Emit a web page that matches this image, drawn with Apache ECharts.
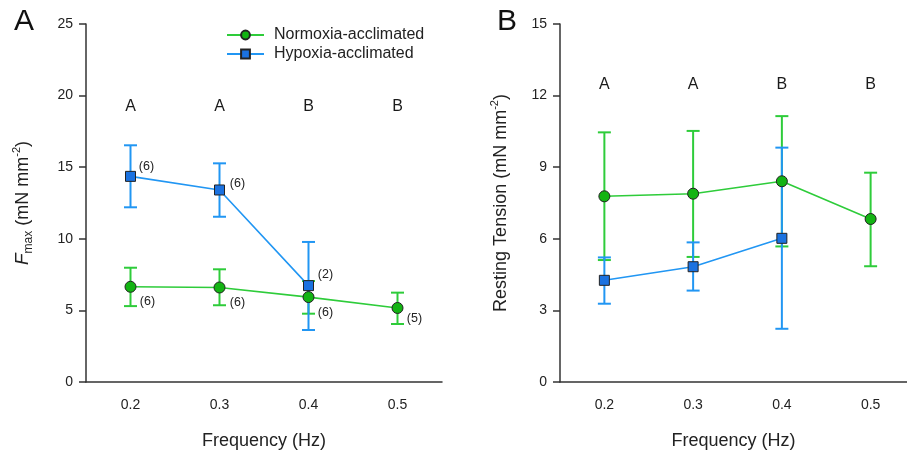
<!DOCTYPE html>
<html><head><meta charset="utf-8">
<script src="https://cdn.jsdelivr.net/npm/echarts@6/dist/echarts.min.js"></script>
<style>html,body{margin:0;padding:0;background:#fff}#c{width:907px;height:454px}</style>
</head><body><div id="c"></div>
<script>
// ---- data ----
const freq = [0.2, 0.3, 0.4, 0.5];
const freqHyp = [0.2, 0.3, 0.4];
const fmaxNorm = [6.65, 6.6, 5.93, 5.17];
const fmaxNormLo = [5.3, 5.36, 4.77, 4.05];
const fmaxNormHi = [7.98, 7.87, 7.05, 6.24];
const fmaxHyp = [14.36, 13.41, 6.73];
const fmaxHypLo = [12.2, 11.54, 3.63];
const fmaxHypHi = [16.53, 15.27, 9.78];
const nNorm = [6, 6, 6, 5];
const nHyp = [6, 6, 2];
const restNorm = [7.78, 7.89, 8.41, 6.83];
const restNormLo = [5.11, 5.24, 5.68, 4.85];
const restNormHi = [10.46, 10.52, 11.14, 8.77];
const restHyp = [4.26, 4.83, 6.02];
const restHypLo = [3.28, 3.83, 2.23];
const restHypHi = [5.22, 5.85, 9.82];
const groupLetters = ['A', 'A', 'B', 'B'];
const letterLevelA = 19.2;
const letterLevelB = 12.45;
const xTicks = [0.2, 0.3, 0.4, 0.5];

// ---- styles ----
const FONT = 'Liberation Sans, Arial, sans-serif';
const GREEN = '#2ecc3a', GREEN_FILL = '#13b413';
const BLUE = '#2196f3', BLUE_FILL = '#1b72e0';
const nOffNorm = [[17, 15], [18, 15], [17, 15], [17, 11]];
const nOffHyp = [[16, -10], [18, -6], [17, -11]];

const chart = echarts.init(document.getElementById('c'), null, {renderer: 'canvas'});

function xAxisCfg(gi, max) {
  return {
    type: 'value', gridIndex: gi, min: 0.15, max: max,
    axisLine: {show: true, lineStyle: {color: '#333', width: 1.5}},
    axisTick: {show: false},
    splitLine: {show: false},
    axisLabel: {customValues: xTicks, formatter: v => v.toFixed(1), color: '#222', fontSize: 14, fontFamily: FONT, margin: 16},
    name: 'Frequency (Hz)', nameLocation: 'middle', nameGap: 50,
    nameTextStyle: {color: '#222', fontSize: 18, fontFamily: FONT}
  };
}
function yAxisCfg(gi, max, interval, nameRich, name, gap) {
  return {
    type: 'value', gridIndex: gi, min: 0, max: max, interval: interval,
    axisLine: {show: true, lineStyle: {color: '#333', width: 1.5}},
    axisTick: {show: true, inside: false, length: 7, lineStyle: {color: '#333', width: 1.5}},
    splitLine: {show: false},
    axisLabel: {color: '#222', fontSize: 14, fontFamily: FONT, margin: 13},
    name: name, nameLocation: 'middle', nameRotate: 90, nameGap: gap,
    nameTextStyle: {color: '#222', fontSize: 18, fontFamily: FONT, rich: nameRich}
  };
}

const richA = {
  i: {fontSize: 19, fontStyle: 'italic', fontFamily: FONT, color: '#222', lineHeight: 24, verticalAlign: 'middle'},
  sub: {fontSize: 12, fontFamily: FONT, color: '#222', lineHeight: 24, verticalAlign: 'bottom'},
  n: {fontSize: 18, fontFamily: FONT, color: '#222', lineHeight: 24, verticalAlign: 'middle'},
  sup: {fontSize: 11, fontFamily: FONT, color: '#222', lineHeight: 24, verticalAlign: 'top'}
};

function errSeries(name, xs, lo, hi, color, xi, z) {
  return {
    type: 'custom', name: name, xAxisIndex: xi, yAxisIndex: xi, z: z, silent: true,
    data: xs.map((x, i) => [x, lo[i], hi[i]]),
    encode: {x: 0, y: [1, 2]},
    renderItem: function (params, api) {
      const x = api.value(0);
      const p1 = api.coord([x, api.value(1)]);
      const p2 = api.coord([x, api.value(2)]);
      const w = 6.5;
      const st = {stroke: color, lineWidth: 2};
      return {type: 'group', children: [
        {type: 'line', shape: {x1: p1[0], y1: p1[1], x2: p2[0], y2: p2[1]}, style: st},
        {type: 'line', shape: {x1: p1[0] - w, y1: p1[1], x2: p1[0] + w, y2: p1[1]}, style: st},
        {type: 'line', shape: {x1: p2[0] - w, y1: p2[1], x2: p2[0] + w, y2: p2[1]}, style: st}
      ]};
    }
  };
}

function lineSeries(name, xs, ys, counts, offs, color, fill, symbol, size, xi, z) {
  return {
    type: 'line', name: name, xAxisIndex: xi, yAxisIndex: xi, z: z,
    symbol: symbol, symbolSize: size, showAllSymbol: true,
    lineStyle: {color: color, width: 1.6},
    itemStyle: {color: fill, borderColor: '#222', borderWidth: 1},
    data: xs.map((x, i) => {
      const d = {value: [x, ys[i]]};
      if (counts) {
        d.label = {show: true, position: 'inside', offset: offs[i], formatter: '(' + counts[i] + ')',
          color: '#222', fontSize: 12.5, fontFamily: FONT};
      }
      return d;
    }),
    emphasis: {disabled: true},
    animation: false
  };
}

function letterSeries(level, xi) {
  return {
    type: 'scatter', xAxisIndex: xi, yAxisIndex: xi, symbolSize: 0, silent: true,
    itemStyle: {opacity: 1},
    data: freq.map((x, i) => ({value: [x, level], name: groupLetters[i]})),
    label: {show: true, position: 'inside', formatter: p => p.name, color: '#1a1a1a', fontSize: 16, fontFamily: FONT}
  };
}

const option = {
  animation: false,
  backgroundColor: '#fff',
  grid: [
    {left: 86, top: 24, width: 356, bottom: 72, outerBoundsMode: 'none', containLabel: false},
    {left: 560, top: 24, right: 0, bottom: 72, outerBoundsMode: 'none', containLabel: false}
  ],
  xAxis: [xAxisCfg(0, 0.55), xAxisCfg(1, 0.541)],
  yAxis: [
    yAxisCfg(0, 25, 5, richA, '{i|F}{sub|max}{n| (mN mm}{sup|-2}{n|)}', 51),
    yAxisCfg(1, 15, 3, richA, '{n|Resting Tension (mN mm}{sup|-2}{n|)}', 47)
  ],
  legend: {
    orient: 'vertical', left: 226, top: 27, padding: 0, itemWidth: 37, itemHeight: 11, itemGap: 3,
    data: ['Normoxia-acclimated', 'Hypoxia-acclimated'],
    textStyle: {color: '#222', fontSize: 16, fontFamily: FONT, padding: [0, 0, 0, 5]},
    selectedMode: false
  },
  graphic: [
    {type: 'text', left: 14, top: 7, style: {text: 'A', fontSize: 30, fontFamily: FONT, fill: '#111'}},
    {type: 'text', left: 497, top: 7, style: {text: 'B', fontSize: 30, fontFamily: FONT, fill: '#111'}}
  ],
  series: [
    errSeries('errNA', freq, fmaxNormLo, fmaxNormHi, GREEN, 0, 2),
    errSeries('errHA', freqHyp, fmaxHypLo, fmaxHypHi, BLUE, 0, 3),
    lineSeries('Hypoxia-acclimated', freqHyp, fmaxHyp, nHyp, nOffHyp, BLUE, BLUE_FILL, 'rect', 10, 0, 4),
    lineSeries('Normoxia-acclimated', freq, fmaxNorm, nNorm, nOffNorm, GREEN, GREEN_FILL, 'circle', 11, 0, 5),
    letterSeries(letterLevelA, 0),
    errSeries('errNB', freq, restNormLo, restNormHi, GREEN, 1, 2),
    errSeries('errHB', freqHyp, restHypLo, restHypHi, BLUE, 1, 3),
    lineSeries('Hypoxia-acclimated', freqHyp, restHyp, null, null, BLUE, BLUE_FILL, 'rect', 10, 1, 4),
    lineSeries('Normoxia-acclimated', freq, restNorm, null, null, GREEN, GREEN_FILL, 'circle', 11, 1, 5),
    letterSeries(letterLevelB, 1)
  ]
};
chart.setOption(option);
</script></body></html>
